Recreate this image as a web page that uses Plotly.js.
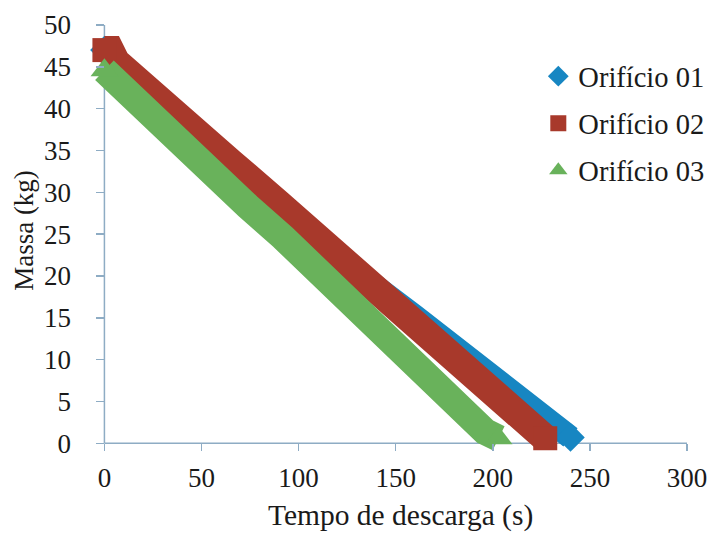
<!DOCTYPE html>
<html>
<head>
<meta charset="utf-8">
<script src="https://cdn.plot.ly/plotly-3.0.1.min.js"></script>
<style>html,body{margin:0;padding:0;background:#fff;}#chart{width:721px;height:534px;}</style>
</head>
<body>
<div id="chart"></div>
<script>
// Orifício 01 (blue diamonds)
var t01 = [0, 3, 6, 20, 40, 65, 90, 110, 125, 136, 160, 190, 215, 232, 240];
var m01 = [47, 47, 45.6, 42.5, 38.4, 33.6, 28.6, 24.4, 21.2, 19.4, 15.2, 9.7, 5.0, 2.0, 0.7];
// Orifício 02 (red squares)
var t02 = [0, 3, 6, 20, 40, 65, 90, 110, 125, 148, 170, 190, 209, 220, 227];
var m02 = [47, 47, 45.6, 42.5, 38.4, 33.6, 28.6, 24.4, 21.4, 16.3, 11.8, 7.6, 3.6, 1.6, 0.6];
// Orifício 03 (green triangles)
var t03 = [0, 10, 30, 50, 74, 92, 114, 140, 165, 189, 196, 203];
var m03 = [44.6, 42.3, 37.7, 33.2, 28.3, 24.6, 19.7, 13.6, 8.3, 2.4, 1.4, 0.6];

var names = ['Orifício 01', 'Orifício 02', 'Orifício 03'];
var xTicks = [0, 50, 100, 150, 200, 250, 300];
var yTicks = [0, 5, 10, 15, 20, 25, 30, 35, 40, 45, 50];

var colors = ['#1786c2', '#a8392b', '#69b25b'];
var symbols = ['diamond', 'square', 'triangle-up'];
var widths = [23, 28, 27];
var msizes = [22, 24, 24];
var series = [[t01, m01], [t02, m02], [t03, m03]];

var axisColor = '#8eacc4';
var FAM = '"Liberation Serif", "Times New Roman", serif';
function f(size) { return {family: FAM, size: size, color: '#1a1a1a'}; }

var data = [];
series.forEach(function (s, i) {
  var n = s[0].length;
  data.push({
    x: s[0], y: s[1], type: 'scatter', mode: 'lines+markers',
    line: {color: colors[i], width: widths[i]},
    marker: {
      color: colors[i], symbol: symbols[i], opacity: 1,
      line: {width: 0, color: colors[i]},
      size: s[0].map(function (v, k) { return (k === 0 || k === n - 1) ? msizes[i] : 0; })
    },
    cliponaxis: false, showlegend: false, hoverinfo: 'x+y'
  });
});
names.forEach(function (n, i) {
  data.push({
    x: [null], y: [null], type: 'scatter', mode: 'markers', name: n,
    legendgroup: 'g' + i,
    marker: {color: colors[i], symbol: symbols[i], size: 17}
  });
});

var layout = {
  width: 721, height: 534,
  margin: {l: 85, r: 25, t: 25, b: 74},
  paper_bgcolor: '#ffffff', plot_bgcolor: '#ffffff',
  font: f(27),
  showlegend: true,
  legend: {
    x: 0.753, y: 0.94, xanchor: 'left', yanchor: 'top',
    font: f(28.5),
    bgcolor: 'rgba(0,0,0,0)', borderwidth: 0,
    traceorder: 'grouped', tracegroupgap: 7, itemwidth: 30
  },
  xaxis: {
    range: [-10, 300], tickvals: xTicks, ticktext: xTicks.map(String),
    showgrid: false, zeroline: false, showline: false,
    anchor: 'free', position: 2 / 52,
    ticks: 'outside', ticklen: 7, tickcolor: axisColor, tickwidth: 1.5,
    ticklabelstandoff: 3,
    tickfont: f(27)
  },
  yaxis: {
    range: [-2, 50], tickvals: yTicks, ticktext: yTicks.map(String),
    showgrid: false, zeroline: false, showline: false,
    anchor: 'free', position: 10 / 310,
    ticks: 'outside', ticklen: 8, tickcolor: axisColor, tickwidth: 1.5,
    ticklabelstandoff: 20,
    tickfont: f(27)
  },
  annotations: [
    {text: 'Massa (kg)', xref: 'paper', yref: 'y', x: (23 - 85) / 611, y: 25.5,
     xanchor: 'center', yanchor: 'middle', textangle: -90, showarrow: false, font: f(27)},
    {text: 'Tempo de descarga (s)', xref: 'x', yref: 'paper', x: 152.5, y: (460 - 515) / 435,
     xanchor: 'center', yanchor: 'middle', showarrow: false, font: f(29.5)}
  ],
  shapes: [
    {type: 'line', xref: 'x', yref: 'y', x0: 0, x1: 300, y0: 0, y1: 0, line: {color: axisColor, width: 1.5}, layer: 'below'},
    {type: 'line', xref: 'x', yref: 'y', x0: 0, x1: 0, y0: 0, y1: 50, line: {color: axisColor, width: 1.5}, layer: 'below'}
  ]
};

Plotly.newPlot('chart', data, layout, {displayModeBar: false, staticPlot: true});
</script>
</body>
</html>
